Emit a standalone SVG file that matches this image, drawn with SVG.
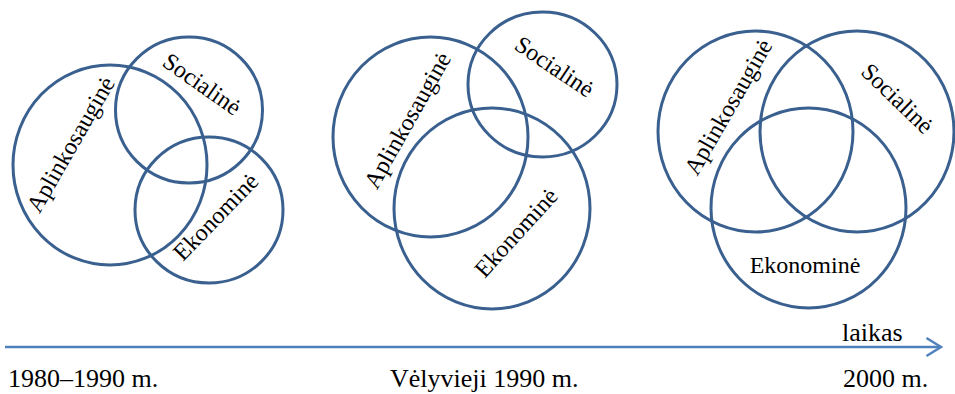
<svg xmlns="http://www.w3.org/2000/svg" width="955" height="394" viewBox="0 0 955 394">
<style>
.c{fill:none;stroke:#3A6090;stroke-width:3}
.t{font-family:"Liberation Serif","Times New Roman",serif;font-size:24px;fill:#000;text-anchor:middle}
.b{font-family:"Liberation Serif","Times New Roman",serif;font-size:26px;fill:#000}
.ax{fill:none;stroke:#4F81BD;stroke-width:2.5}
</style>
<rect width="955" height="394" fill="#fff"/>
<g id="p1-aplinkosaugine"><ellipse class="c" cx="110" cy="165" rx="97" ry="100"/><text class="t" transform="translate(77.5,148.5) rotate(-60)">Aplinkosauginė</text></g>
<g id="p1-socialine"><ellipse class="c" cx="189" cy="110" rx="73.5" ry="73"/><text class="t" transform="translate(197.5,90.7) rotate(35)">Socialinė</text></g>
<g id="p1-ekonomine"><ellipse class="c" cx="209" cy="210" rx="74" ry="73"/><text class="t" transform="translate(221.5,222.3) rotate(-46)">Ekonominė</text></g>
<g id="p2-aplinkosaugine"><ellipse class="c" cx="430.5" cy="137" rx="97.5" ry="100"/><text class="t" transform="translate(414.3,124.3) rotate(-60.5)">Aplinkosauginė</text></g>
<g id="p2-socialine"><ellipse class="c" cx="542.5" cy="84.5" rx="74.5" ry="72.5"/><text class="t" transform="translate(550,73.3) rotate(34)">Socialinė</text></g>
<g id="p2-ekonomine"><ellipse class="c" cx="492" cy="208.5" rx="98" ry="100.5"/><text class="t" transform="translate(521.9,238) rotate(-47.7)">Ekonominė</text></g>
<g id="p3-aplinkosaugine"><ellipse class="c" cx="755.5" cy="131.5" rx="97.5" ry="100.5"/><text class="t" transform="translate(735.2,111) rotate(-60)">Aplinkosauginė</text></g>
<g id="p3-socialine"><ellipse class="c" cx="857" cy="131.5" rx="97" ry="100.5"/><text class="t" transform="translate(891.8,104.2) rotate(44)">Socialinė</text></g>
<g id="p3-ekonomine"><ellipse class="c" cx="808.5" cy="208" rx="97.5" ry="100"/><text class="t" x="805" y="273">Ekonominė</text></g>
<g id="connectors">
<line class="ax" x1="5" y1="347" x2="940" y2="347"/>
<polyline class="ax" points="926.5,338 941,347 926.5,356"/>
</g>
<g id="labels">
<text class="b" x="842" y="341">laikas</text>
<text class="b" x="8" y="387">1980–1990 m.</text>
<text class="b" x="390" y="387">Vėlyvieji 1990 m.</text>
<text class="b" x="843" y="387">2000 m.</text>
</g>
</svg>
